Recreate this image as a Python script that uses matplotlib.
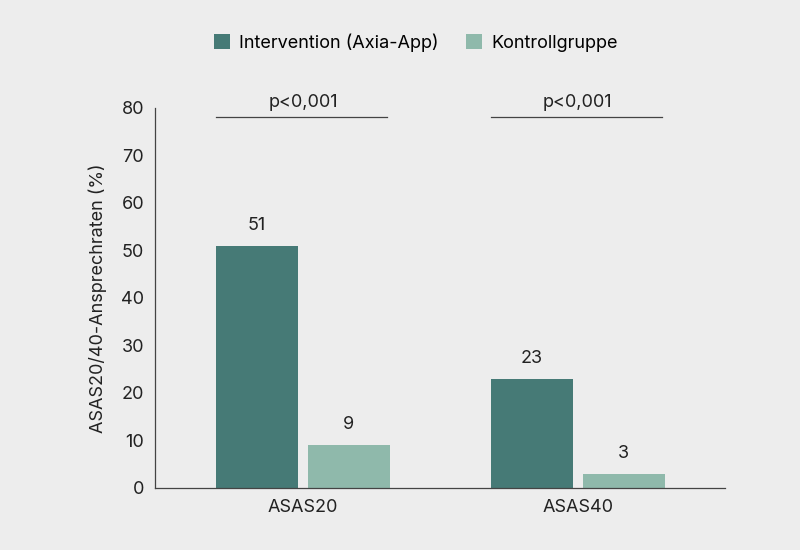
import matplotlib.pyplot as plt
import numpy as np

plt.rcParams["font.family"] = ["Inter", "DejaVu Sans"]

categories = ["ASAS20", "ASAS40"]
intervention = [51, 23]
kontrolle = [9, 3]
p_labels = ["p<0,001", "p<0,001"]

bg = "#ededed"
dark = "#467a76"
light = "#8fb9ab"

fig = plt.figure(figsize=(8, 5.5), dpi=100, facecolor=bg)
ax = fig.add_axes([0.194, 0.113, 0.712, 0.691], facecolor=bg)

x = np.arange(len(categories))
w = 0.298
off = 0.167
b1 = ax.bar(x - off, intervention, w, color=dark, label="Intervention (Axia-App)")
b2 = ax.bar(x + off, kontrolle, w, color=light, label="Kontrollgruppe")

for bars in (b1, b2):
    for rect in bars:
        ax.text(rect.get_x() + rect.get_width() / 2, rect.get_height() + 2.5,
                f"{rect.get_height():.0f}", ha="center", va="bottom", fontsize=13, color="#222222")

for xi, lab in zip(x, p_labels):
    ax.plot([xi - off - w / 2, xi + off + w / 2 - 0.01], [78, 78], color="#444444", lw=0.9)
    ax.text(xi, 79.3, lab, ha="center", va="bottom", fontsize=13, color="#222222")

ax.set_xlim(-0.538, 1.535)
ax.set_ylim(0, 80)
ax.set_yticks(range(0, 81, 10))
ax.set_xticks(x)
ax.set_xticklabels(categories)
ax.tick_params(axis="both", labelsize=13, colors="#222222", length=0, pad=8)
ax.set_ylabel("ASAS20/40-Ansprechraten (%)", fontsize=13, color="#222222", labelpad=10)
for s in ("top", "right"):
    ax.spines[s].set_visible(False)
for s in ("left", "bottom"):
    ax.spines[s].set_color("#444444")
    ax.spines[s].set_linewidth(0.9)

fig.legend(handles=[b1, b2], loc="center", bbox_to_anchor=(0.52, 0.922), ncol=2,
           frameon=False, fontsize=13, handlelength=0.9, handleheight=0.9,
           columnspacing=1.5, handletextpad=0.5)

fig.savefig("out.png", dpi=100, facecolor=bg)
